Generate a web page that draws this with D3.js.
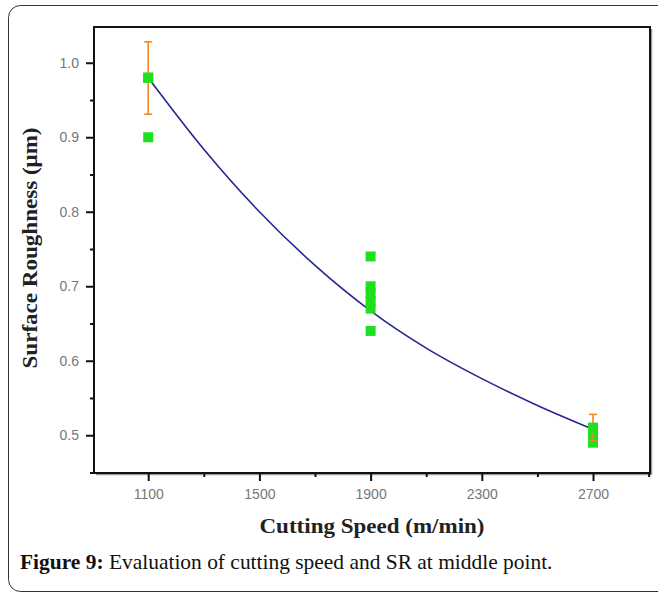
<!DOCTYPE html>
<html><head><meta charset="utf-8">
<script src="https://cdn.jsdelivr.net/npm/d3@7"></script>
<style>html,body{margin:0;padding:0;background:#fff;}svg{display:block;}</style>
</head><body>
<svg id="chart" width="658" height="592"></svg>
<script>
// ---- data ----
const xTicks = [1100, 1500, 1900, 2300, 2700];
const yTicks = [0.5, 0.6, 0.7, 0.8, 0.9, 1.0];
const pointSpeed = [1100, 1100, 1900, 1900, 1900, 1900, 1900, 1900, 2700, 2700, 2700];
const pointSR    = [0.98, 0.90, 0.74, 0.70, 0.69, 0.68, 0.67, 0.64, 0.51, 0.50, 0.49];
const errSpeed = [1100, 2700];
const errMean  = [0.98, 0.51];
const errLow   = [0.931, 0.493];
const errHigh  = [1.028, 0.528];
const fitSpeed = [1100, 1300, 1500, 1700, 1900, 2100, 2300, 2500, 2700];
const fitSR    = [0.98, 0.884, 0.80, 0.728, 0.667, 0.617, 0.576, 0.540, 0.508];
const xLabel = "Cutting Speed (m/min)";
const yLabel = "Surface Roughness (μm)";
const captionBold = "Figure 9:";
const captionText = " Evaluation of cutting speed and SR at middle point.";

const svg = d3.select("#chart");
const L = 94, T = 27, R = 650, B = 473;

// outer rounded border
svg.append("rect").attr("x", 8.5).attr("y", 5.5).attr("width", 670).attr("height", 586)
  .attr("rx", 12).attr("fill", "none").attr("stroke", "#333").attr("stroke-width", 1);

const x = d3.scaleLinear().domain([905, 2905]).range([L, R]);
const y = d3.scaleLinear().domain([0.4493, 1.048]).range([B, T]);

// frame shadow + frame
svg.append("path").attr("d", `M${R+1.5},${T+2}V${B+1.5}H${L+2}`).attr("fill","none")
  .attr("stroke", "#999").attr("stroke-width", 1.5);
svg.append("rect").attr("x", L).attr("y", T).attr("width", R - L).attr("height", B - T)
  .attr("fill", "none").attr("stroke", "#111").attr("stroke-width", 2);

// axes
const minorX = d3.range(1300, 2901, 400);
const minorY = d3.range(0.45, 1.04, 0.1);
const xAxis = svg.append("g").attr("transform", `translate(0,${B})`)
  .call(d3.axisBottom(x).tickValues(xTicks).tickFormat(d3.format("d")).tickSize(8).tickPadding(8));
const yAxis = svg.append("g").attr("transform", `translate(${L},0)`)
  .call(d3.axisLeft(y).tickValues(yTicks).tickFormat(d3.format(".1f")).tickSize(8).tickPadding(7));
[xAxis, yAxis].forEach(g => {
  g.select(".domain").remove();
  g.selectAll("line").attr("stroke", "#111").attr("stroke-width", 2);
  g.selectAll("text").attr("fill", "#777").attr("font-family", "Liberation Sans, Arial, sans-serif").attr("font-size", 14);
});
svg.append("g").attr("transform", `translate(0,${B})`)
  .call(d3.axisBottom(x).tickValues(minorX).tickFormat("").tickSize(4))
  .call(g => { g.select(".domain").remove(); g.selectAll("line").attr("stroke", "#111").attr("stroke-width", 2); });
svg.append("g").attr("transform", `translate(${L},0)`)
  .call(d3.axisLeft(y).tickValues(minorY).tickFormat("").tickSize(4))
  .call(g => { g.select(".domain").remove(); g.selectAll("line").attr("stroke", "#111").attr("stroke-width", 2); });

// fit curve
const line = d3.line().x((d, i) => x(fitSpeed[i])).y(d => y(d)).curve(d3.curveMonotoneX);
svg.append("path").attr("d", line(fitSR)).attr("fill", "none")
  .attr("stroke", "#262690").attr("stroke-width", 1.6);

// points
svg.append("g").selectAll("path").data(pointSR).join("path")
  .attr("d", d3.symbol(d3.symbolSquare, 100))
  .attr("transform", (d, i) => `translate(${x(pointSpeed[i])},${y(d)})`)
  .attr("fill", "#1fe01f");

// error bars
const eg = svg.append("g").attr("stroke", "#f08a24").attr("stroke-width", 1.6);
errSpeed.forEach((s, i) => {
  const cx = x(s);
  eg.append("line").attr("x1", cx).attr("x2", cx).attr("y1", y(errLow[i])).attr("y2", y(errHigh[i]));
  eg.append("line").attr("x1", cx - 4).attr("x2", cx + 4).attr("y1", y(errLow[i])).attr("y2", y(errLow[i]));
  eg.append("line").attr("x1", cx - 4).attr("x2", cx + 4).attr("y1", y(errHigh[i])).attr("y2", y(errHigh[i]));
});
// redraw mean markers on top
svg.append("g").selectAll("path").data(errMean).join("path")
  .attr("d", d3.symbol(d3.symbolSquare, 100))
  .attr("transform", (d, i) => `translate(${x(errSpeed[i])},${y(d)})`)
  .attr("fill", "#1fe01f");

// axis titles
svg.append("text").attr("x", 372).attr("y", 533).attr("text-anchor", "middle")
  .attr("font-family", "Liberation Serif, Times New Roman, serif").attr("font-weight", "bold")
  .attr("font-size", 20).attr("fill", "#222").attr("textLength", 225).attr("lengthAdjust", "spacingAndGlyphs")
  .text(xLabel);
svg.append("text").attr("transform", "translate(37,248) rotate(-90)").attr("text-anchor", "middle")
  .attr("font-family", "Liberation Serif, Times New Roman, serif").attr("font-weight", "bold")
  .attr("font-size", 20).attr("fill", "#222").attr("textLength", 241).attr("lengthAdjust", "spacingAndGlyphs")
  .text(yLabel);

// caption
const cap = svg.append("text").attr("x", 20).attr("y", 569)
  .attr("font-family", "Liberation Serif, Times New Roman, serif").attr("font-size", 18).attr("fill", "#111");
cap.append("tspan").attr("font-weight", "bold").text(captionBold);
cap.append("tspan").text(captionText);
const w = cap.node().getComputedTextLength();
cap.attr("font-size", 18 * 533 / w);
</script>
</body></html>
